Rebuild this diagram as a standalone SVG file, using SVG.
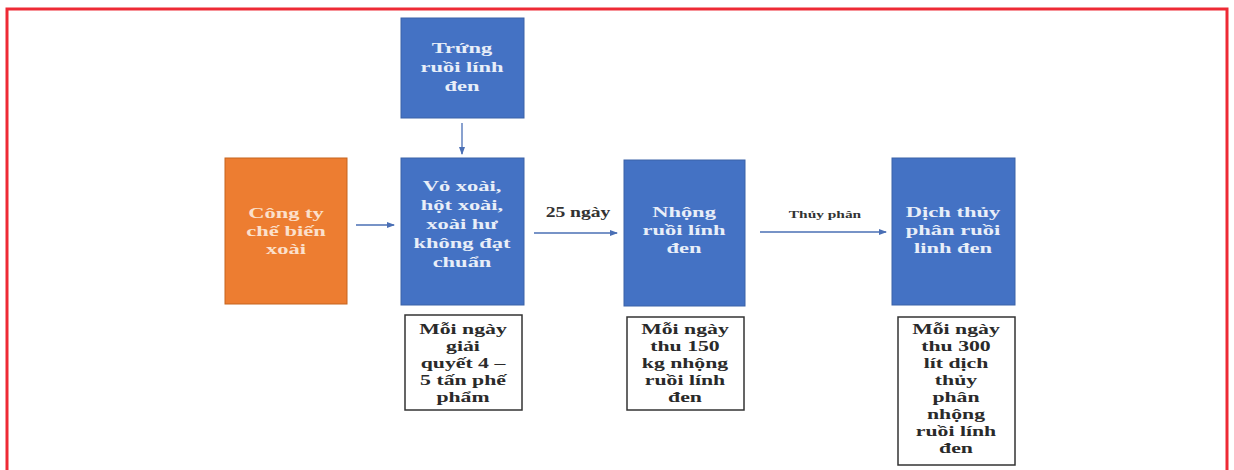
<svg xmlns="http://www.w3.org/2000/svg" width="1234" height="470" viewBox="0 0 1234 470">
<defs>
<style>
.blue{fill:#4472C4;stroke:#3A62A8;stroke-width:1}
.orange{fill:#ED7D31;stroke:#C5651F;stroke-width:1}
.note{fill:#fff;stroke:#333;stroke-width:1.5}
.wt{font-family:"Liberation Serif",serif;font-size:15px;font-weight:bold;fill:#E8EEF8;text-anchor:middle}
.ot{font-family:"Liberation Serif",serif;font-size:15px;font-weight:bold;fill:#FBE0CC;text-anchor:middle}
.bt{font-family:"Liberation Serif",serif;font-size:15px;font-weight:bold;fill:#2a2a2a;text-anchor:middle}
.lbl{font-family:"Liberation Serif",serif;font-size:14px;font-weight:bold;fill:#333;text-anchor:middle}
.lbls{font-family:"Liberation Serif",serif;font-size:11px;font-weight:bold;fill:#333;text-anchor:middle}
.conn{stroke:#4A6FB5;stroke-width:1.3;fill:none;marker-end:url(#ah)}
</style>
<marker id="ah" markerWidth="8" markerHeight="8" refX="7" refY="4" orient="auto" markerUnits="userSpaceOnUse">
<path d="M0,1 L8,4 L0,7 Z" fill="#4A6FB5"/>
</marker>
</defs>
<rect width="1234" height="470" fill="#fff"/>
<path d="M7,475 V9 H1227 V475" fill="none" stroke="#EE2A35" stroke-width="3"/>
<g id="connectors">
<line class="conn" x1="462" y1="123" x2="462" y2="154"/>
<line class="conn" x1="356" y1="225" x2="394" y2="225"/>
<line class="conn" x1="534" y1="233" x2="617" y2="233"/>
<line class="conn" x1="760" y1="232" x2="886" y2="232"/>
<g transform="translate(578,0) scale(1.4,1)"><text class="lbl" x="0" y="217">25 ngày</text></g>
<g transform="translate(825,0) scale(1.4,1)"><text class="lbls" x="0" y="218">Thủy phân</text></g>
</g>
<g id="trung">
<rect class="blue" x="401" y="18" width="123" height="100"/>
<g transform="translate(462,0) scale(1.5,1)">
<text class="wt" x="0" y="53">Trứng</text>
<text class="wt" x="0" y="72">ruồi lính</text>
<text class="wt" x="0" y="91">đen</text>
</g>
</g>
<g id="congty">
<rect class="orange" x="225" y="158" width="122" height="146"/>
<g transform="translate(286,0) scale(1.5,1)">
<text class="ot" x="0" y="218">Công ty</text>
<text class="ot" x="0" y="236">chế biến</text>
<text class="ot" x="0" y="254">xoài</text>
</g>
</g>
<g id="voxoai">
<rect class="blue" x="401" y="158" width="123" height="147"/>
<g transform="translate(462,0) scale(1.5,1)">
<text class="wt" x="0" y="191">Vỏ xoài,</text>
<text class="wt" x="0" y="210">hột xoài,</text>
<text class="wt" x="0" y="229">xoài hư</text>
<text class="wt" x="0" y="248">không đạt</text>
<text class="wt" x="0" y="267">chuẩn</text>
</g>
</g>
<g id="nhong">
<rect class="blue" x="624" y="160" width="121" height="146"/>
<g transform="translate(684,0) scale(1.5,1)">
<text class="wt" x="0" y="217">Nhộng</text>
<text class="wt" x="0" y="235">ruồi lính</text>
<text class="wt" x="0" y="253">đen</text>
</g>
</g>
<g id="dich">
<rect class="blue" x="892" y="158" width="123" height="147"/>
<g transform="translate(953,0) scale(1.5,1)">
<text class="wt" x="0" y="217">Dịch thủy</text>
<text class="wt" x="0" y="235">phân ruồi</text>
<text class="wt" x="0" y="253">linh đen</text>
</g>
</g>
<g id="note1">
<rect class="note" x="405" y="315" width="117" height="95"/>
<g transform="translate(463,0) scale(1.45,1)">
<text class="bt" x="0" y="334">Mỗi ngày</text>
<text class="bt" x="0" y="351">giải</text>
<text class="bt" x="0" y="368">quyết 4 –</text>
<text class="bt" x="0" y="385">5 tấn phế</text>
<text class="bt" x="0" y="402">phẩm</text>
</g>
</g>
<g id="note2">
<rect class="note" x="627" y="317" width="117" height="93"/>
<g transform="translate(685,0) scale(1.45,1)">
<text class="bt" x="0" y="334">Mỗi ngày</text>
<text class="bt" x="0" y="351">thu 150</text>
<text class="bt" x="0" y="368">kg nhộng</text>
<text class="bt" x="0" y="385">ruồi lính</text>
<text class="bt" x="0" y="402">đen</text>
</g>
</g>
<g id="note3">
<rect class="note" x="898" y="317" width="117" height="148"/>
<g transform="translate(956,0) scale(1.45,1)">
<text class="bt" x="0" y="334">Mỗi ngày</text>
<text class="bt" x="0" y="351">thu 300</text>
<text class="bt" x="0" y="368">lít dịch</text>
<text class="bt" x="0" y="385">thủy</text>
<text class="bt" x="0" y="402">phân</text>
<text class="bt" x="0" y="419">nhộng</text>
<text class="bt" x="0" y="436">ruồi lính</text>
<text class="bt" x="0" y="453">đen</text>
</g>
</g>
</svg>
